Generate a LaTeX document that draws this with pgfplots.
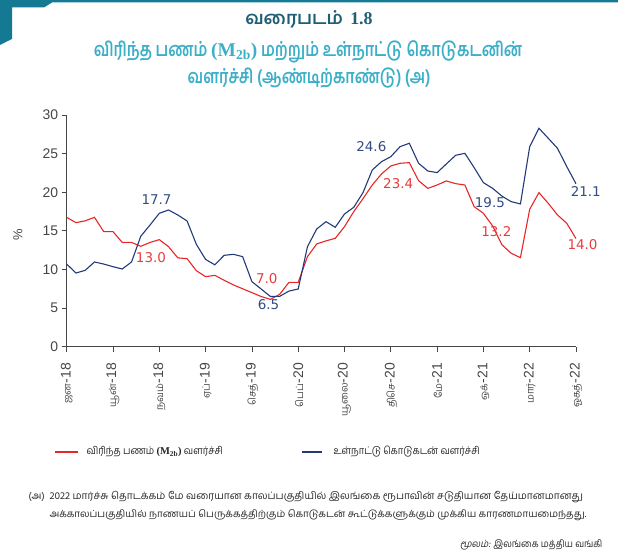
\documentclass[border=0pt]{standalone}
\usepackage{fontspec}
\usepackage{pgfplots}
\usepackage{pgfplotstable}
\pgfplotsset{compat=1.18}
\setmainfont{Liberation Sans}
\newfontfamily\tamil[Script=Tamil]{Hind Madurai}
\newfontfamily\tamilc[Script=Tamil,FakeStretch=0.9]{Hind Madurai}
\newfontfamily\tamilt[Script=Tamil,FakeStretch=0.78]{Hind Madurai}
\newfontfamily\tamilit[Script=Tamil,FakeSlant=0.2,FakeStretch=0.9]{Hind Madurai}
\newfontfamily\serifb{Liberation Serif}
\newfontfamily\labfont{DejaVu Sans}
\definecolor{framec}{RGB}{20,122,148}
\definecolor{titledark}{RGB}{30,95,115}
\definecolor{titlelight}{RGB}{60,175,200}
\definecolor{redc}{RGB}{232,38,40}
\definecolor{bluec}{RGB}{35,58,120}
\definecolor{axisgray}{RGB}{70,70,70}
\definecolor{labred}{RGB}{232,60,60}
\definecolor{labblue}{RGB}{50,75,130}
\newcommand\tm[1]{{\tamil\fontsize{10}{11}\selectfont #1}}

\pgfplotstableread{
m v
0 16.75
1 16.06
2 16.3
3 16.75
4 14.9
5 14.9
6 13.5
7 13.5
8 13.0
9 13.5
10 13.86
11 12.95
12 11.5
13 11.4
14 9.84
15 9.07
16 9.24
17 8.6
18 8.0
19 7.5
20 7.0
21 6.5
22 6.13
23 6.78
24 8.33
25 8.33
26 11.66
27 13.3
28 13.7
29 14.03
30 15.54
31 17.49
32 19.17
33 20.94
34 22.37
35 23.4
36 23.75
37 23.83
38 21.5
39 20.5
40 20.94
41 21.46
42 21.11
43 20.94
44 18.13
45 17.27
46 15.63
47 13.2
48 12.09
49 11.53
50 17.79
51 19.95
52 18.57
53 17.06
54 15.98
55 14.0
}\mtwo

\pgfplotstableread{
m v
0 10.7
1 9.54
2 9.89
3 10.97
4 10.7
5 10.36
6 10.06
7 10.97
8 14.3
9 15.76
10 17.27
11 17.7
12 17.05
13 16.28
14 13.26
15 11.3
16 10.6
17 11.83
18 11.96
19 11.66
20 8.42
21 7.47
22 6.5
23 6.52
24 7.2
25 7.47
26 12.95
27 15.24
28 16.19
29 15.46
30 17.18
31 18.05
32 19.95
33 22.88
34 23.96
35 24.6
36 25.9
37 26.34
38 23.75
39 22.75
40 22.54
41 23.66
42 24.78
43 25.04
44 23.19
45 21.24
46 20.5
47 19.5
48 18.78
49 18.48
50 25.9
51 28.28
52 26.99
53 25.69
54 23.32
55 21.1
}\credit

\begin{document}
\begin{tikzpicture}
\path[use as bounding box] (0,0) rectangle (618bp,560bp);
\begin{scope}[yshift=560bp, x=1bp, y=-1bp]
 \fill[framec] (0,0) -- (618,0) -- (618,2.5) -- (52,2.5) -- (44,7.5) -- (12,7.5) -- (12,39) -- (0,45) -- cycle;
 \node[font=\tamil\bfseries\fontsize{18}{21}\selectfont, text=titledark] at (309,19) {வரைபடம்\hspace{0.4em}{\serifb\bfseries 1.8}};
 \node[font=\tamilt\bfseries\fontsize{19.5}{22}\selectfont, text=titlelight] at (308,52)
   {விரிந்த பணம் {\serifb\bfseries (M\textsubscript{2b})} மற்றும் உள்நாட்டு கொடுகடனின்};
 \node[font=\tamilt\bfseries\fontsize{19.5}{22}\selectfont, text=titlelight] at (309,78)
   {வளர்ச்சி (ஆண்டிற்காண்டு) (அ)};
 \node[rotate=90, font=\fontsize{13}{15}\selectfont, text=axisgray] at (18,235) {\%};
 % legend
 \draw[redc, line width=1.3bp] (55,452) -- (78,452);
 \node[anchor=west, font=\tamilc\fontsize{10.5}{12}\selectfont, text=black!85] at (83,452)
   {விரிந்த பணம் {\serifb\bfseries (M\textsubscript{2b})} வளர்ச்சி};
 \draw[bluec, line width=1.3bp] (302,452) -- (322,452);
 \node[anchor=west, font=\tamilc\fontsize{10.5}{12}\selectfont, text=black!85] at (330,452)
   {உள்நாட்டு கொடுகடன் வளர்ச்சி};
 % footnote
 \node[anchor=west, font=\tamil\fontsize{10}{12}\selectfont, text=black!85] at (25,497) {(அ)};
 \node[anchor=west, font=\tamil\fontsize{10.2}{12}\selectfont, text=black!85] at (46,497)
   {2022 மார்ச்சு தொடக்கம் மே வரையான காலப்பகுதியில் இலங்கை ரூபாவின் சடுதியான தேய்மானமானது};
 \node[anchor=west, font=\tamil\fontsize{9.9}{12}\selectfont, text=black!85] at (46,515)
   {அக்காலப்பகுதியில் நாணயப் பெருக்கத்திற்கும் கொடுகடன் கூட்டுக்களுக்கும் முக்கிய காரணமாயமைந்தது.};
 \node[anchor=east, font=\tamilc\fontsize{10}{12}\selectfont, text=black!85] at (606,545)
   {{\tamilit மூலம்:} இலங்கை மத்திய வங்கி};
\end{scope}
\begin{axis}[
  at={(66.7bp,213.3bp)}, anchor=south west,
  scale only axis, width=509.3bp, height=231.7bp,
  xmin=0, xmax=55, ymin=0, ymax=30,
  axis lines=left,
  axis line style={-, draw=axisgray, line width=0.8bp},
  tick style={draw=axisgray, line width=0.8bp},
  tick align=outside, major tick length=5bp,
  xtick={0,5,...,55},
  xticklabels={\tm{ஜன}-18, \tm{யூன்}-18, \tm{நவம்}-18, \tm{ஏப்}-19, \tm{செத்}-19, \tm{பெப்}-20, \tm{யூலை}-20, \tm{திசெ}-20, \tm{மே}-21, \tm{ஒக்}-21, \tm{மார்}-22, \tm{ஓகத்}-22},
  xticklabel style={rotate=90, anchor=east, font=\fontsize{14}{16}\selectfont, text=axisgray},
  xticklabel shift=8bp,
  ytick={0,5,...,30},
  yticklabel style={font=\fontsize{14}{16}\selectfont, text=axisgray},
  /pgf/number format/assume math mode=true,
  clip=false,
]
\addplot[redc, line width=1.1bp, mark=none] table[x=m, y=v] {\mtwo};
\addplot[bluec, line width=1.1bp, mark=none] table[x=m, y=v] {\credit};
\node[font=\labfont\fontsize{13.5}{15}\selectfont, text=labblue] at (axis cs:9.7,19.1) {17.7};
\node[font=\labfont\fontsize{13.5}{15}\selectfont, text=labred] at (axis cs:9.1,11.5) {13.0};
\node[font=\labfont\fontsize{13.5}{15}\selectfont, text=labred] at (axis cs:21.6,8.86) {7.0};
\node[font=\labfont\fontsize{13.5}{15}\selectfont, text=labblue] at (axis cs:21.8,5.49) {6.5};
\node[font=\labfont\fontsize{13.5}{15}\selectfont, text=labblue] at (axis cs:32.9,25.9) {24.6};
\node[font=\labfont\fontsize{13.5}{15}\selectfont, text=labred] at (axis cs:35.8,21.08) {23.4};
\node[font=\labfont\fontsize{13.5}{15}\selectfont, text=labblue] at (axis cs:45.7,18.65) {19.5};
\node[font=\labfont\fontsize{13.5}{15}\selectfont, text=labred] at (axis cs:46.4,14.9) {13.2};
\node[font=\labfont\fontsize{13.5}{15}\selectfont, text=labblue] at (axis cs:56.06,20.08) {21.1};
\node[font=\labfont\fontsize{13.5}{15}\selectfont, text=labred] at (axis cs:55.7,13.26) {14.0};
\end{axis}
\end{tikzpicture}
\end{document}
